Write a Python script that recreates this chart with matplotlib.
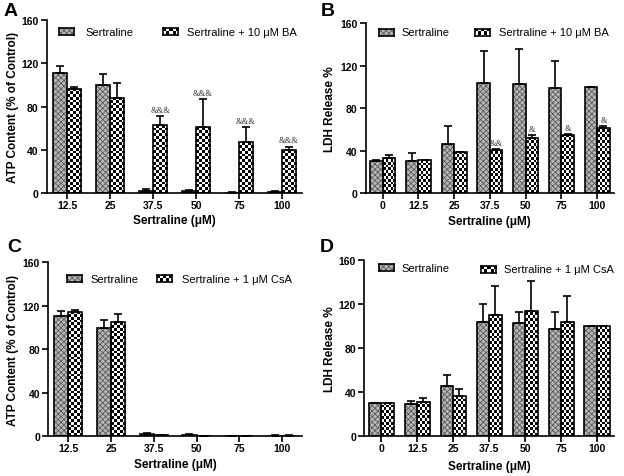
import numpy as np
import matplotlib.pyplot as plt
from matplotlib.patches import Rectangle

plt.rcParams['font.family'] = ['Liberation Sans', 'DejaVu Sans']
plt.rcParams['hatch.linewidth'] = 0.6

W, H = 624, 477

# Datos
conc_atp = ['12.5', '25', '37.5', '50', '75', '100']
conc_ldh = ['0', '12.5', '25', '37.5', '50', '75', '100']

# A: ATP, sertralina vs sertralina + BA
atp_ser = [111, 100, 2.5, 2, 0.5, 1]
atp_ser_err = [6.5, 10, 1.5, 1.5, 0.3, 0.7]
atp_ba = [96.5, 87.5, 63, 61, 47, 39.5]
atp_ba_err = [1.5, 14, 8, 25.5, 14, 3.5]
atp_ba_sig = ['', '', '&&&', '&&&', '&&&', '&&&']

# B: LDH, sertralina vs sertralina + BA
ldh_ser = [30.5, 30.5, 46, 103.5, 103, 98.5, 99.8]
ldh_ser_err = [0.5, 7, 17, 30, 33, 26, 0.5]
ldh_ba = [33, 31, 38.5, 41, 51.5, 54.5, 61.5]
ldh_ba_err = [3, 0.5, 0.5, 0.5, 3, 1, 1.5]
ldh_ba_sig = ['', '', '', '&&', '&', '&', '&']

# C: ATP, sertralina vs sertralina + CsA
atp_ser2 = [111, 100, 2, 1.5, 0.3, 0.7]
atp_ser2_err = [4, 6.5, 1, 0.8, 0.2, 0.3]
atp_csa = [114.5, 105, 1, 0.3, 0.3, 0.7]
atp_csa_err = [2, 7.5, 0.5, 0.2, 0.2, 0.3]

# D: LDH, sertralina vs sertralina + CsA
ldh_ser2 = [30, 29, 46, 103.5, 103, 98, 100]
ldh_ser2_err = [0.5, 3, 10, 16.5, 10, 15, 0]
ldh_csa = [30, 31, 37, 110.5, 114, 104, 100]
ldh_csa_err = [0.3, 4, 6.3, 26, 27.5, 24, 0]


def checker(ny, nx):
    return np.add.outer(np.arange(ny), np.arange(nx)) % 2


def panel(ax, cats, s, s_err, t, t_err, w, sig=None, ylabel='', xlab_y=-0.15, ylab_x=-0.14):
    n = len(cats)
    x = np.arange(n)
    # barras grises (sertralina)
    ax.bar(x - w / 2, s, w, color='#b8b8b8', edgecolor='#5a5a5a', hatch='xxxxxx',
           linewidth=0, zorder=1)
    ax.bar(x - w / 2, s, w, fill=False, edgecolor='black', linewidth=1.2, zorder=3)
    # barras ajedrezadas
    bars_t = ax.bar(x + w / 2, t, w, color='white', linewidth=0, zorder=1)
    cell_y = 2.6
    for b, h in zip(bars_t, t):
        x0 = b.get_x()
        ny = int(np.ceil(h / cell_y)) + 1
        im = ax.imshow(checker(ny, 5), extent=(x0, x0 + w, 0, ny * cell_y), origin='lower',
                       cmap='gray', vmin=0, vmax=1, interpolation='nearest',
                       aspect='auto', zorder=2)
        im.set_clip_path(b)
    ax.bar(x + w / 2, t, w, fill=False, edgecolor='black', linewidth=1.2, zorder=3)
    # barras de error (solo hacia arriba)
    ax.errorbar(x - w / 2, s, yerr=[np.zeros(n), s_err], fmt='none', ecolor='black',
                elinewidth=1.2, capsize=3, capthick=1.2, zorder=4)
    ax.errorbar(x + w / 2, t, yerr=[np.zeros(n), t_err], fmt='none', ecolor='black',
                elinewidth=1.2, capsize=3, capthick=1.2, zorder=4)
    if sig:
        for xi, v, e, txt in zip(x, t, t_err, sig):
            if txt:
                ax.text(xi + w / 2, v + e + 2, txt, ha='center', va='bottom', fontsize=6,
                        family='Liberation Serif', color='#333333')

    ax.set_xlim(-0.47, n - 0.53)
    ax.set_ylim(0, 160)
    ax.set_yticks([0, 40, 80, 120, 160])
    ax.set_xticks(x)
    ax.set_xticklabels(cats)
    for sp in ['top', 'right']:
        ax.spines[sp].set_visible(False)
    for sp in ['left', 'bottom']:
        ax.spines[sp].set_linewidth(1.2)
    ax.tick_params(direction='out', length=4, width=1.2, labelsize=7.5, pad=2)
    ax.tick_params(axis='x', pad=1)
    for lab in ax.get_xticklabels() + ax.get_yticklabels():
        lab.set_fontweight('bold')
    ax.set_xlabel('Sertraline (\u03bcM)', fontsize=8.5, fontweight='bold', va='center')
    ax.xaxis.set_label_coords(0.5, xlab_y)
    ax.set_ylabel(ylabel, fontsize=8.5, fontweight='bold', va='center')
    ax.yaxis.set_label_coords(ylab_x, 0.5)


def swatch(fig, xpx, ypx, kind, label, xtext):
    sax = fig.add_axes([xpx / W, 1 - (ypx + 3.5) / H, 15 / W, 7 / H])
    if kind == 'checker':
        sax.imshow(checker(2, 5), cmap='gray', vmin=0, vmax=1, interpolation='nearest',
                   aspect='auto')
    else:
        sax.add_patch(Rectangle((0, 0), 1, 1, facecolor='#b8b8b8', edgecolor='#5a5a5a',
                                hatch='xxxxxx', linewidth=0, transform=sax.transAxes))
    sax.set_xticks([])
    sax.set_yticks([])
    for sp in sax.spines.values():
        sp.set_linewidth(1.2)
    fig.text(xtext / W, 1 - ypx / H, label, va='center', ha='left', fontsize=8)


fig = plt.figure(figsize=(6.24, 4.77), dpi=100)

axA = fig.add_axes([47 / W, 1 - 194.3 / H, 255 / W, 173.6 / H])
axB = fig.add_axes([365.7 / W, 1 - 194.3 / H, 248.3 / W, 170.3 / H])
axC = fig.add_axes([48.3 / W, 1 - 437.3 / H, 253.7 / W, 174 / H])
axD = fig.add_axes([364.3 / W, 1 - 437.3 / H, 249.7 / W, 176 / H])

panel(axA, conc_atp, atp_ser, atp_ser_err, atp_ba, atp_ba_err, 0.33, atp_ba_sig,
      'ATP Content (% of Control)', -0.152, -0.133)
panel(axB, conc_ldh, ldh_ser, ldh_ser_err, ldh_ba, ldh_ba_err, 0.35, ldh_ba_sig,
      'LDH Release %', -0.161, -0.144)
panel(axC, conc_atp, atp_ser2, atp_ser2_err, atp_csa, atp_csa_err, 0.33, None,
      'ATP Content (% of Control)', -0.159, -0.139)
panel(axD, conc_ldh, ldh_ser2, ldh_ser2_err, ldh_csa, ldh_csa_err, 0.35, None,
      'LDH Release %', -0.169, -0.136)

# leyendas
swatch(fig, 59, 32.5, 'gray', 'Sertraline', 85)
swatch(fig, 163, 32.5, 'checker', 'Sertraline + 10 \u03bcM BA', 187)
swatch(fig, 379, 33, 'gray', 'Sertraline', 401)
swatch(fig, 475, 33, 'checker', 'Sertraline + 10 \u03bcM BA', 499)
swatch(fig, 67, 279.7, 'gray', 'Sertraline', 90)
swatch(fig, 157, 279.7, 'checker', 'Sertraline + 1 \u03bcM CsA', 182)
swatch(fig, 379, 268.7, 'gray', 'Sertraline', 401)
swatch(fig, 481, 270.3, 'checker', 'Sertraline + 1 \u03bcM CsA', 504)

# letras de panel
for letra, px, py in [('A', 11, 12), ('B', 328, 12), ('C', 14, 247), ('D', 327, 248)]:
    fig.text(px / W, 1 - py / H, letra, fontsize=14, fontweight='bold', ha='center', va='center')

fig.savefig('out.png', dpi=100)
